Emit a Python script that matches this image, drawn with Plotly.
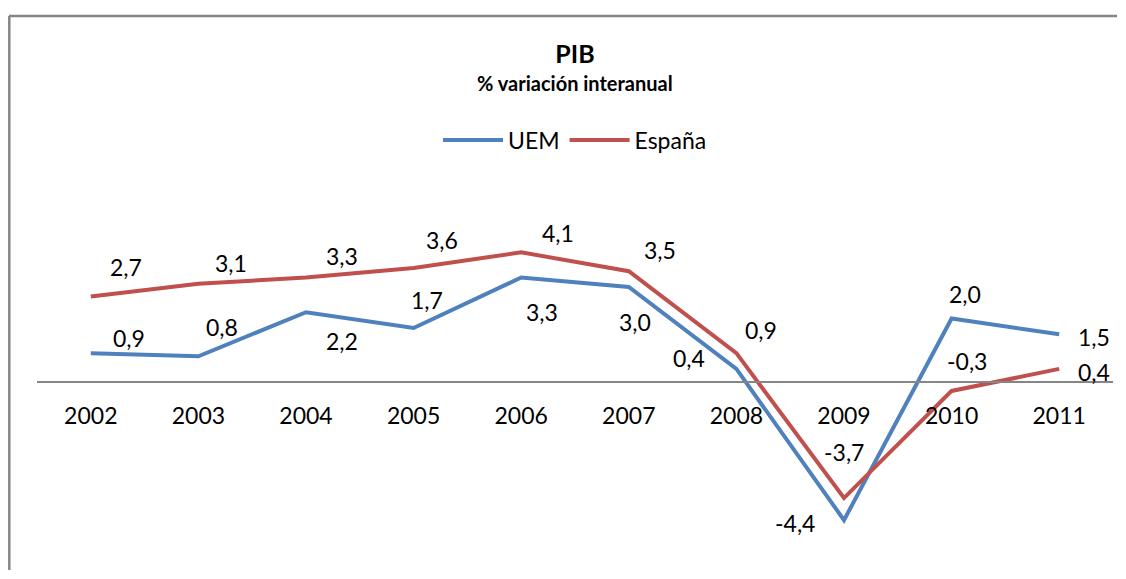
import plotly.graph_objects as go

# ── data ─────────────────────────────────────────────────────────────────────
years = ["2002", "2003", "2004", "2005", "2006", "2007", "2008", "2009", "2010", "2011"]
uem = [0.9, 0.8, 2.2, 1.7, 3.3, 3.0, 0.4, -4.4, 2.0, 1.5]
espana = [2.7, 3.1, 3.3, 3.6, 4.1, 3.5, 0.9, -3.7, -0.3, 0.4]

# ── style ────────────────────────────────────────────────────────────────────
_FONT = "Lato"
_BLUE = "#4F81BD"
_RED = "#C0504D"
_GREY = "#868686"

# label offsets (px) from each point, Excel-style manual placement
uem_dx = [38, 24, 36, 13, 21, 6, -47, -49, 13, 35]
uem_dy = [15, 29, -29, 28, -34, -35, 11, -3, 25, -3]
esp_dx = [35, 33, 36, 28, 37, 31, 25, 0, 15, 35]
esp_dy = [29, 21, 22, 28, 19, 21, 23, 46, 30, -3]

# the page body adds an 8px margin all round: keep the figure inside the window
OFF = 8
W, H = 1126 - 2 * OFF, 579 - 2 * OFF
PLOT_L, PLOT_R, PLOT_T, PLOT_B = 37, 1113, 224, 539   # plot area in page px
ML, MT = PLOT_L - OFF, PLOT_T - OFF
MR, MB = OFF + W - PLOT_R, OFF + H - PLOT_B
Y_RANGE = [-5, 5]
PW, PH = PLOT_R - PLOT_L, PLOT_B - PLOT_T


def px_to_paper_x(px):
    return (px - PLOT_L) / PW


def px_to_paper_y(py):
    return (PLOT_B - py) / PH


def fmt(v):
    return f"{v:.1f}".replace(".", ",")


fig = go.Figure()
fig.add_trace(go.Scatter(x=years, y=uem, name="UEM", mode="lines",
                         line=dict(color=_BLUE, width=4)))
fig.add_trace(go.Scatter(x=years, y=espana, name="España", mode="lines",
                         line=dict(color=_RED, width=4)))

annotations = []
for series, dxs, dys in ((uem, uem_dx, uem_dy), (espana, esp_dx, esp_dy)):
    for i, (v, dx, dy) in enumerate(zip(series, dxs, dys)):
        annotations.append(dict(
            x=i, y=v, xref="x", yref="y", text=fmt(v), showarrow=False,
            xanchor="center", yanchor="middle", xshift=dx, yshift=dy,
            font=dict(family=_FONT, size=23, color="#000000"),
        ))

annotations.append(dict(
    x=0.5, y=px_to_paper_y(83), xref="paper", yref="paper",
    text="<b>% variación interanual</b>", showarrow=False,
    xanchor="center", yanchor="middle",
    font=dict(family=_FONT, size=20, color="#000000"),
))

shapes = [
    # chart frame (top and left edges visible)
    dict(type="line", xref="paper", yref="paper",
         x0=px_to_paper_x(9), x1=px_to_paper_x(OFF + W - 1),
         y0=px_to_paper_y(16), y1=px_to_paper_y(16),
         line=dict(color=_GREY, width=2.5)),
    dict(type="line", xref="paper", yref="paper",
         x0=px_to_paper_x(9.3), x1=px_to_paper_x(9.3),
         y0=px_to_paper_y(16), y1=px_to_paper_y(OFF + H - 1),
         line=dict(color=_GREY, width=2.5)),
]

fig.update_layout(
    width=W, height=H,
    margin=dict(l=ML, r=MR, t=MT, b=MB),
    paper_bgcolor="white", plot_bgcolor="white",
    title=dict(text="<b>PIB</b>", x=0.5, xref="paper", xanchor="center",
               y=1 - (54 - OFF) / H, yref="container", yanchor="middle",
               font=dict(family=_FONT, size=25, color="#000000")),
    legend=dict(orientation="h", x=0.5, xanchor="center",
                y=px_to_paper_y(140), yanchor="middle",
                font=dict(family=_FONT, size=23, color="#000000"),
                itemwidth=60, bgcolor="rgba(0,0,0,0)"),
    xaxis=dict(type="category", range=[-0.5, 9.5], showgrid=False,
               zeroline=False, showline=True, linecolor=_GREY, linewidth=2,
               anchor="free", position=0.5, ticks="",
               ticklabelstandoff=14,
               tickfont=dict(family=_FONT, size=23, color="#000000")),
    yaxis=dict(range=Y_RANGE, showgrid=False, zeroline=False,
               showline=False, showticklabels=False, ticks=""),
    annotations=annotations,
    shapes=shapes,
    showlegend=True,
)

fig.write_html("out.html")
